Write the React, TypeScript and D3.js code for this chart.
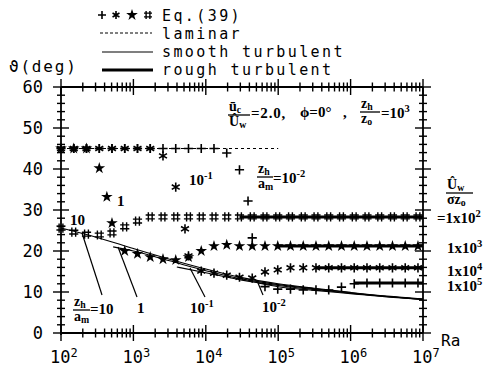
import React from 'react';
import * as d3 from 'd3';

const W = 496;
const H = 366;

// Eq.(39) series — Ra values and inclination angle (deg)
const raHash = [100, 150, 225, 338, 506, 759, 1139, 1709, 2563, 3844, 5767, 8650, 12975, 19462, 29193, 43789, 65684, 98526, 147789, 221684, 332526, 498789, 748183, 1122274, 1683411, 2525117, 3787675, 5681513, 8522269];
const thHash = [25.6, 24.6, 24.1, 23.9, 24.4, 25.9, 27.3, 28.3, 28.3, 28.3, 28.3, 28.3, 28.3, 28.3, 28.3, 28.3, 28.3, 28.3, 28.3, 28.3, 28.3, 28.3, 28.3, 28.3, 28.3, 28.3, 28.3, 28.3, 28.3];

const raStar = [100, 150, 225, 338, 430, 506, 759, 1139, 1709, 2563, 3844, 5767, 8650, 12975, 19462, 29193, 43789, 65684, 98526, 147789, 221684, 332526, 498789, 748183, 1122274, 1683411, 2525117, 3787675, 5681513, 8522269];
const thStar = [45, 45, 45, 40.2, 33.2, 26.8, 20.0, 19.3, 18.5, 18.0, 17.8, 18.5, 20.0, 21.2, 21.5, 21.2, 21.2, 21.2, 21.2, 21.2, 21.2, 21.2, 21.2, 21.2, 21.2, 21.2, 21.2, 21.2, 21.2, 21.2];

const raAst = [100, 150, 225, 338, 506, 759, 1139, 1709, 2563, 3844, 5160, 5767, 8650, 12975, 19462, 29193, 43789, 65684, 98526, 147789, 221684, 332526, 498789, 748183, 1122274, 1683411, 2525117, 3787675, 5681513, 8522269];
const thAst = [45, 45, 45, 45, 45, 45, 45, 45, 43.2, 35.6, 25.4, 18.8, 15.1, 14.6, 14.1, 13.6, 13.4, 14.9, 15.4, 15.9, 15.9, 15.9, 15.9, 15.9, 15.9, 15.9, 15.9, 15.9, 15.9, 15.9];

const raPlus = [100, 150, 225, 338, 506, 759, 1139, 1709, 2563, 3844, 5767, 8650, 12975, 19462, 29193, 38300, 43789, 65684, 98526, 147789, 221684, 332526, 498789, 748183, 1122274, 1683411, 2525117, 3787675, 5681513, 8522269];
const thPlus = [45, 45, 45, 45, 45, 45, 45, 45, 45, 45, 45, 45, 45, 43.9, 39.8, 32.2, 23.2, 11.3, 10.7, 10.7, 10.5, 10.5, 10.5, 11.2, 12.0, 12.2, 12.2, 12.2, 12.2, 12.2];

// laminar
const raLam = [100, 100000];
const thLam = [45, 45];

// smooth turbulent curves (z_h/a_m = 10, 1, 1e-1, 1e-2)
const raSmA = [100, 316, 1000, 3162, 10000, 31623, 100000, 316228, 1000000, 3162278, 10000000];
const thSmA = [25.6, 23.3, 20.6, 18.0, 15.6, 13.5, 12.0, 10.9, 9.9, 9.0, 8.3];
const raSmB = [525, 1000, 3162, 10000, 31623, 100000, 316228, 1000000, 3162278, 10000000];
const thSmB = [21.0, 20.0, 17.6, 15.2, 13.2, 11.8, 10.8, 9.8, 8.9, 8.2];
const raSmC = [3981, 10000, 31623, 100000, 316228, 1000000, 3162278, 10000000];
const thSmC = [16.1, 14.7, 12.9, 11.6, 10.6, 9.7, 8.9, 8.2];
const raSmD = [52500, 100000, 316228, 1000000, 3162278, 10000000];
const thSmD = [12.2, 11.3, 10.4, 9.6, 8.8, 8.2];

// rough turbulent lines (Uw/(sigma z0) = 1e2, 1e3, 1e4, 1e5)
const roughStart = [29193, 98526, 332526, 1122274];
const roughEnd = [10000000, 10000000, 10000000, 10000000];
const roughTheta = [28.3, 21.2, 15.9, 12.2];
const roughLabels = ['2', '3', '4', '5'];

const yTickLabels = [0, 10, 20, 30, 40, 50, 60];
const xDecades = [2, 3, 4, 5, 6, 7];

const x = d3.scaleLog().domain([1e2, 1e7]).range([61, 423]);
const y = d3.scaleLinear().domain([0, 60]).range([333, 87]);

const zip = (a: number[], b: number[]) => a.map((v, i) => [v, b[i]] as [number, number]);

const lineGen = d3
  .line<[number, number]>()
  .x((d) => x(d[0]))
  .y((d) => y(d[1]))
  .curve(d3.curveMonotoneX);

const starPath = d3.symbol().type(d3.symbolStar).size(42)() as string;

const SW = 1.6;

function Plus({ cx, cy, s = 4.6 }: { cx: number; cy: number; s?: number }) {
  return <path d={`M${cx - s},${cy}H${cx + s}M${cx},${cy - s}V${cy + s}`} stroke="#000" strokeWidth={SW} fill="none" />;
}
function Ast({ cx, cy, s = 4.6 }: { cx: number; cy: number; s?: number }) {
  const a = s * Math.cos(Math.PI / 6);
  const b = s * Math.sin(Math.PI / 6);
  return (
    <path
      d={`M${cx},${cy - s}V${cy + s}M${cx - a},${cy - b}L${cx + a},${cy + b}M${cx - a},${cy + b}L${cx + a},${cy - b}`}
      stroke="#000"
      strokeWidth={SW}
      fill="none"
    />
  );
}
function Star({ cx, cy }: { cx: number; cy: number }) {
  return <path d={starPath} transform={`translate(${cx},${cy})`} fill="#000" />;
}
function Hash({ cx, cy, s = 4.6 }: { cx: number; cy: number; s?: number }) {
  const g = 1.9;
  return (
    <path
      d={`M${cx - g},${cy - s}V${cy + s}M${cx + g},${cy - s}V${cy + s}M${cx - s},${cy - g}H${cx + s}M${cx - s},${cy + g}H${cx + s}`}
      stroke="#000"
      strokeWidth={1.4}
      fill="none"
    />
  );
}

const mono = "'DejaVu Sans Mono', monospace";
const serif = "'Liberation Serif', 'Times New Roman', serif";

function Frac({ x0, yb, num, numSub, den, denSub, w, fs = 14 }: any) {
  return (
    <g fontFamily={serif} fontWeight="bold" fontSize={fs} fill="#000">
      <text x={x0 + 1} y={yb - 4}>
        {num}
        <tspan fontSize={fs * 0.7} dy={2}>{numSub}</tspan>
      </text>
      <line x1={x0} x2={x0 + w} y1={yb} y2={yb} stroke="#000" strokeWidth={1.3} />
      <text x={x0 + 1} y={yb + 11}>
        {den}
        <tspan fontSize={fs * 0.7} dy={2}>{denSub}</tspan>
      </text>
    </g>
  );
}

function Pow({ x0, yb, base, exp, fs = 15, anchor = 'start' }: any) {
  return (
    <text x={x0} y={yb} fontFamily={serif} fontWeight="bold" fontSize={fs} fill="#000" textAnchor={anchor}>
      {base}
      <tspan fontSize={fs * 0.7} dy={-6}>{exp}</tspan>
    </text>
  );
}

export default function App() {
  const xTicks = x.ticks();
  const yTicks = d3.range(0, 61, 2);
  const isMajorX = (v: number) => Math.abs(Math.log10(v) - Math.round(Math.log10(v))) < 1e-9;
  const x0 = x(1e2);
  const x1 = x(1e7);
  const yTop = y(60);
  const yBot = y(0);

  const hashPts = zip(raHash, thHash);
  const starPts = zip(raStar, thStar);
  const astPts = zip(raAst, thAst);
  const plusPts = zip(raPlus, thPlus);
  const smooth = [zip(raSmA, thSmA), zip(raSmB, thSmB), zip(raSmC, thSmC), zip(raSmD, thSmD)];

  return (
    <svg width={W} height={H} style={{ position: 'absolute', left: 0, top: 0, background: '#fff' }}>
      <rect width={W} height={H} fill="#fff" />
      {/* frame */}
      <g stroke="#000" strokeWidth={1.8} fill="none">
        <line x1={x0} x2={x1} y1={yBot} y2={yBot} />
        <line x1={x0} x2={x1} y1={yTop} y2={yTop} />
        <line x1={x0} x2={x0} y1={yTop} y2={yBot + 2} />
        <line x1={x1} x2={x1} y1={yTop} y2={yBot} />
      </g>
      {/* ticks */}
      <g stroke="#000" strokeWidth={1.4}>
        {xTicks.map((v, i) => {
          const L = isMajorX(v) ? 8 : 4.5;
          const px = x(v);
          return (
            <g key={'xt' + i}>
              <line x1={px} x2={px} y1={yBot - L} y2={yBot + L} />
              <line x1={px} x2={px} y1={yTop - L} y2={yTop + L} />
            </g>
          );
        })}
        {yTicks.map((v, i) => {
          const L = v % 10 === 0 ? 8 : 4;
          const py = y(v);
          return (
            <g key={'yt' + i}>
              <line x1={x0 - L} x2={x0 + L} y1={py} y2={py} />
              <line x1={x1 - L} x2={x1 + L} y1={py} y2={py} />
            </g>
          );
        })}
      </g>
      {/* tick labels */}
      <g fontFamily={mono} fontSize={17} fill="#000">
        {yTickLabels.map((v) => (
          <text key={'yl' + v} x={43} y={y(v) + 6} textAnchor="end">
            {v}
          </text>
        ))}
        {xDecades.map((d) => (
          <text key={'xl' + d} x={x(Math.pow(10, d)) - 11} y={363}>
            10
            <tspan fontSize={12} dy={-6}>{d}</tspan>
          </text>
        ))}
        <text x={441} y={346} fontSize={16}>Ra</text>
        <text x={9} y={72} fontSize={16} letterSpacing={1.8}>ϑ(deg)</text>
      </g>

      {/* legend */}
      <g>
        <Plus cx={102} cy={15} s={4} />
        <Ast cx={116} cy={15} s={4} />
        <Star cx={132} cy={15} />
        <Hash cx={148} cy={15} s={4} />
        <line x1={100} x2={152} y1={33} y2={33} stroke="#000" strokeWidth={1} strokeDasharray="3,2" />
        <line x1={102} x2={153} y1={52} y2={52} stroke="#000" strokeWidth={1.2} />
        <line x1={102} x2={153} y1={70} y2={70} stroke="#000" strokeWidth={3.2} />
        <g fontFamily={mono} fontSize={15} fill="#000" letterSpacing={2.4}>
          <text x={162} y={21}>Eq.(39)</text>
          <text x={162} y={39}>laminar</text>
          <text x={162} y={57}>smooth turbulent</text>
          <text x={162} y={75}>rough turbulent</text>
        </g>
      </g>

      {/* laminar */}
      <path d={lineGen(zip(raLam, thLam)) as string} stroke="#000" strokeWidth={1} strokeDasharray="3,3" fill="none" />

      {/* smooth turbulent */}
      {smooth.map((pts, i) => (
        <path key={'sm' + i} d={lineGen(pts) as string} stroke="#000" strokeWidth={1.1} fill="none" />
      ))}

      {/* rough turbulent */}
      {roughTheta.map((t, i) => (
        <line
          key={'rt' + i}
          x1={x(roughStart[i])}
          x2={x(roughEnd[i])}
          y1={y(t)}
          y2={y(t)}
          stroke="#000"
          strokeWidth={3}
        />
      ))}

      {/* markers */}
      {hashPts.map((d, i) => (
        <Hash key={'h' + i} cx={x(d[0])} cy={y(d[1])} />
      ))}
      {starPts.map((d, i) => (
        <Star key={'s' + i} cx={x(d[0])} cy={y(d[1])} />
      ))}
      {astPts.map((d, i) => (
        <Ast key={'a' + i} cx={x(d[0])} cy={y(d[1])} />
      ))}
      {plusPts.map((d, i) => (
        <Plus key={'p' + i} cx={x(d[0])} cy={y(d[1])} />
      ))}

      {/* pointer lines */}
      <g stroke="#000" strokeWidth={1.2}>
        <line x1={82} y1={233} x2={102} y2={295} />
        <line x1={118} y1={247} x2={137} y2={297} />
        <line x1={190} y1={268} x2={205} y2={297} />
        <line x1={258} y1={283} x2={263} y2={295} />
      </g>

      {/* annotations */}
      <Frac x0={228} yb={115} num="ū" numSub="c" den="Û" denSub="w" w={22} />
      <text x={251} y={118} fontFamily={serif} fontWeight="bold" fontSize={15} letterSpacing={0.8}>
        =2.0,
      </text>
      <text x={300} y={117} fontFamily={serif} fontWeight="bold" fontSize={15}>
        ϕ=0°
      </text>
      <text x={343} y={117} fontFamily={serif} fontWeight="bold" fontSize={15}>
        ,
      </text>
      <Frac x0={360} yb={112} num="z" numSub="h" den="z" denSub="o" w={20} />
      <Pow x0={381} yb={118} base="=10" exp="3" />

      <Frac x0={257} yb={177} num="z" numSub="h" den="a" denSub="m" w={16} />
      <Pow x0={273} yb={183} base="=10" exp="-2" />
      <Pow x0={189} yb={185} base="10" exp="-1" />
      <text x={117} y={206} fontFamily={serif} fontWeight="bold" fontSize={15}>1</text>
      <text x={70} y={225} fontFamily={serif} fontWeight="bold" fontSize={15}>10</text>

      <Frac x0={73} yb={310} num="z" numSub="h" den="a" denSub="m" w={17} />
      <text x={90} y={314} fontFamily={serif} fontWeight="bold" fontSize={15}>=10</text>
      <text x={137} y={313} fontFamily={serif} fontWeight="bold" fontSize={15}>1</text>
      <Pow x0={190} yb={313} base="10" exp="-1" />
      <Pow x0={262} yb={312} base="10" exp="-2" />

      <Frac x0={446} yb={193} num="Û" numSub="w" den="σz" denSub="o" w={27} />
      <Pow x0={437} yb={223} base="=1x10" exp={roughLabels[0]} />
      <Pow x0={447} yb={253} base="1x10" exp={roughLabels[1]} />
      <Pow x0={447} yb={276} base="1x10" exp={roughLabels[2]} />
      <Pow x0={447} yb={291} base="1x10" exp={roughLabels[3]} />
    </svg>
  );
}
